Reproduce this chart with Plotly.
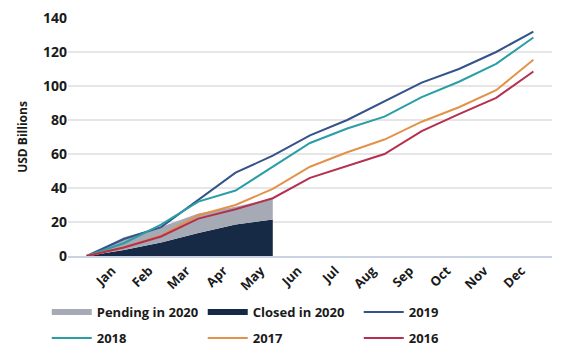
import plotly.graph_objects as go

months = ["Jan", "Feb", "Mar", "Apr", "May", "Jun", "Jul", "Aug", "Sep", "Oct", "Nov", "Dec"]
x_pos = list(range(0, 13))  # 0 = start point, 1..12 = months

closed_2020 = [0, 3.5, 8, 13.5, 18.5, 21.5]
pending_2020 = [0, 7.5, 9, 11.5, 10.5, 12.5]
y2019 = [0, 10, 17, 33, 49, 59, 71, 80, 91, 102, 110, 120, 132]
y2018 = [0, 7.5, 18.5, 32, 38.5, 52.5, 66.5, 75, 82, 93.5, 102.5, 113, 128.5]
y2017 = [0, 5, 12, 24, 30, 39.5, 52.5, 61, 68.5, 79, 87.5, 97.5, 115.5]
y2016 = [0, 5, 11.5, 22, 27.5, 34, 46, 53, 60, 73.5, 83.5, 93, 108.5]

FONT = "Open Sans"
TXT = "#1a1a1a"

fig = go.Figure()
fig.add_trace(go.Scatter(x=x_pos[:len(closed_2020)], y=closed_2020, name="Closed in 2020",
                         stackgroup="a", mode="none", fillcolor="#172a45", legendrank=2,
                         legend="legend"))
fig.add_trace(go.Scatter(x=x_pos[:len(pending_2020)], y=pending_2020, name="Pending in 2020",
                         stackgroup="a", mode="none", fillcolor="#a6aab5", legendrank=1,
                         legend="legend"))

for name, ys, col, rk, lg in [("2019", y2019, "#33538a", 3, "legend"),
                              ("2018", y2018, "#2a9ea6", 4, "legend2"),
                              ("2017", y2017, "#e3924a", 5, "legend2"),
                              ("2016", y2016, "#b5304f", 6, "legend2")]:
    fig.add_trace(go.Scatter(x=x_pos, y=ys, name=name, mode="lines",
                             line=dict(color=col, width=2), legendrank=rk, legend=lg))

leg_common = dict(orientation="h", xref="container", yref="container",
                  x=0.082, xanchor="left", yanchor="middle", traceorder="normal",
                  entrywidth=101, entrywidthmode="pixels",
                  font=dict(family=FONT, size=13, color=TXT, weight=700),
                  tracegroupgap=0, itemwidth=40, bgcolor="rgba(0,0,0,0)")

fig.update_layout(
    width=570, height=362,
    margin=dict(l=68, r=18, t=18, b=106, autoexpand=False),
    paper_bgcolor="white", plot_bgcolor="white",
    font=dict(family=FONT, color=TXT, size=13),
    showlegend=True,
    legend=dict(leg_common, y=1 - 312 / 362),
    legend2=dict(leg_common, y=1 - 338 / 362),
)
fig.update_xaxes(range=[-0.5, 12.5], tickmode="array", tickvals=x_pos[1:], ticktext=months,
                 tickangle=-45, showgrid=False, zeroline=False, showline=True,
                 linecolor="#c9d3e3", linewidth=2, ticklabelshift=-12, ticklabelstandoff=0,
                 tickfont=dict(family=FONT, size=13, color=TXT, weight=700), ticks="")
fig.update_yaxes(range=[0, 140], dtick=20, showgrid=True, gridcolor="#e6e6e6", gridwidth=1.5,
                 zeroline=False, showline=False, ticks="",
                 title=dict(text="USD Billions", font=dict(family=FONT, size=12, color=TXT, weight=700),
                            standoff=12),
                 tickfont=dict(family=FONT, size=14, color=TXT, weight=700))

fig.write_html("out.html", config={"displayModeBar": False},
               post_script="document.body.style.margin='0';")
